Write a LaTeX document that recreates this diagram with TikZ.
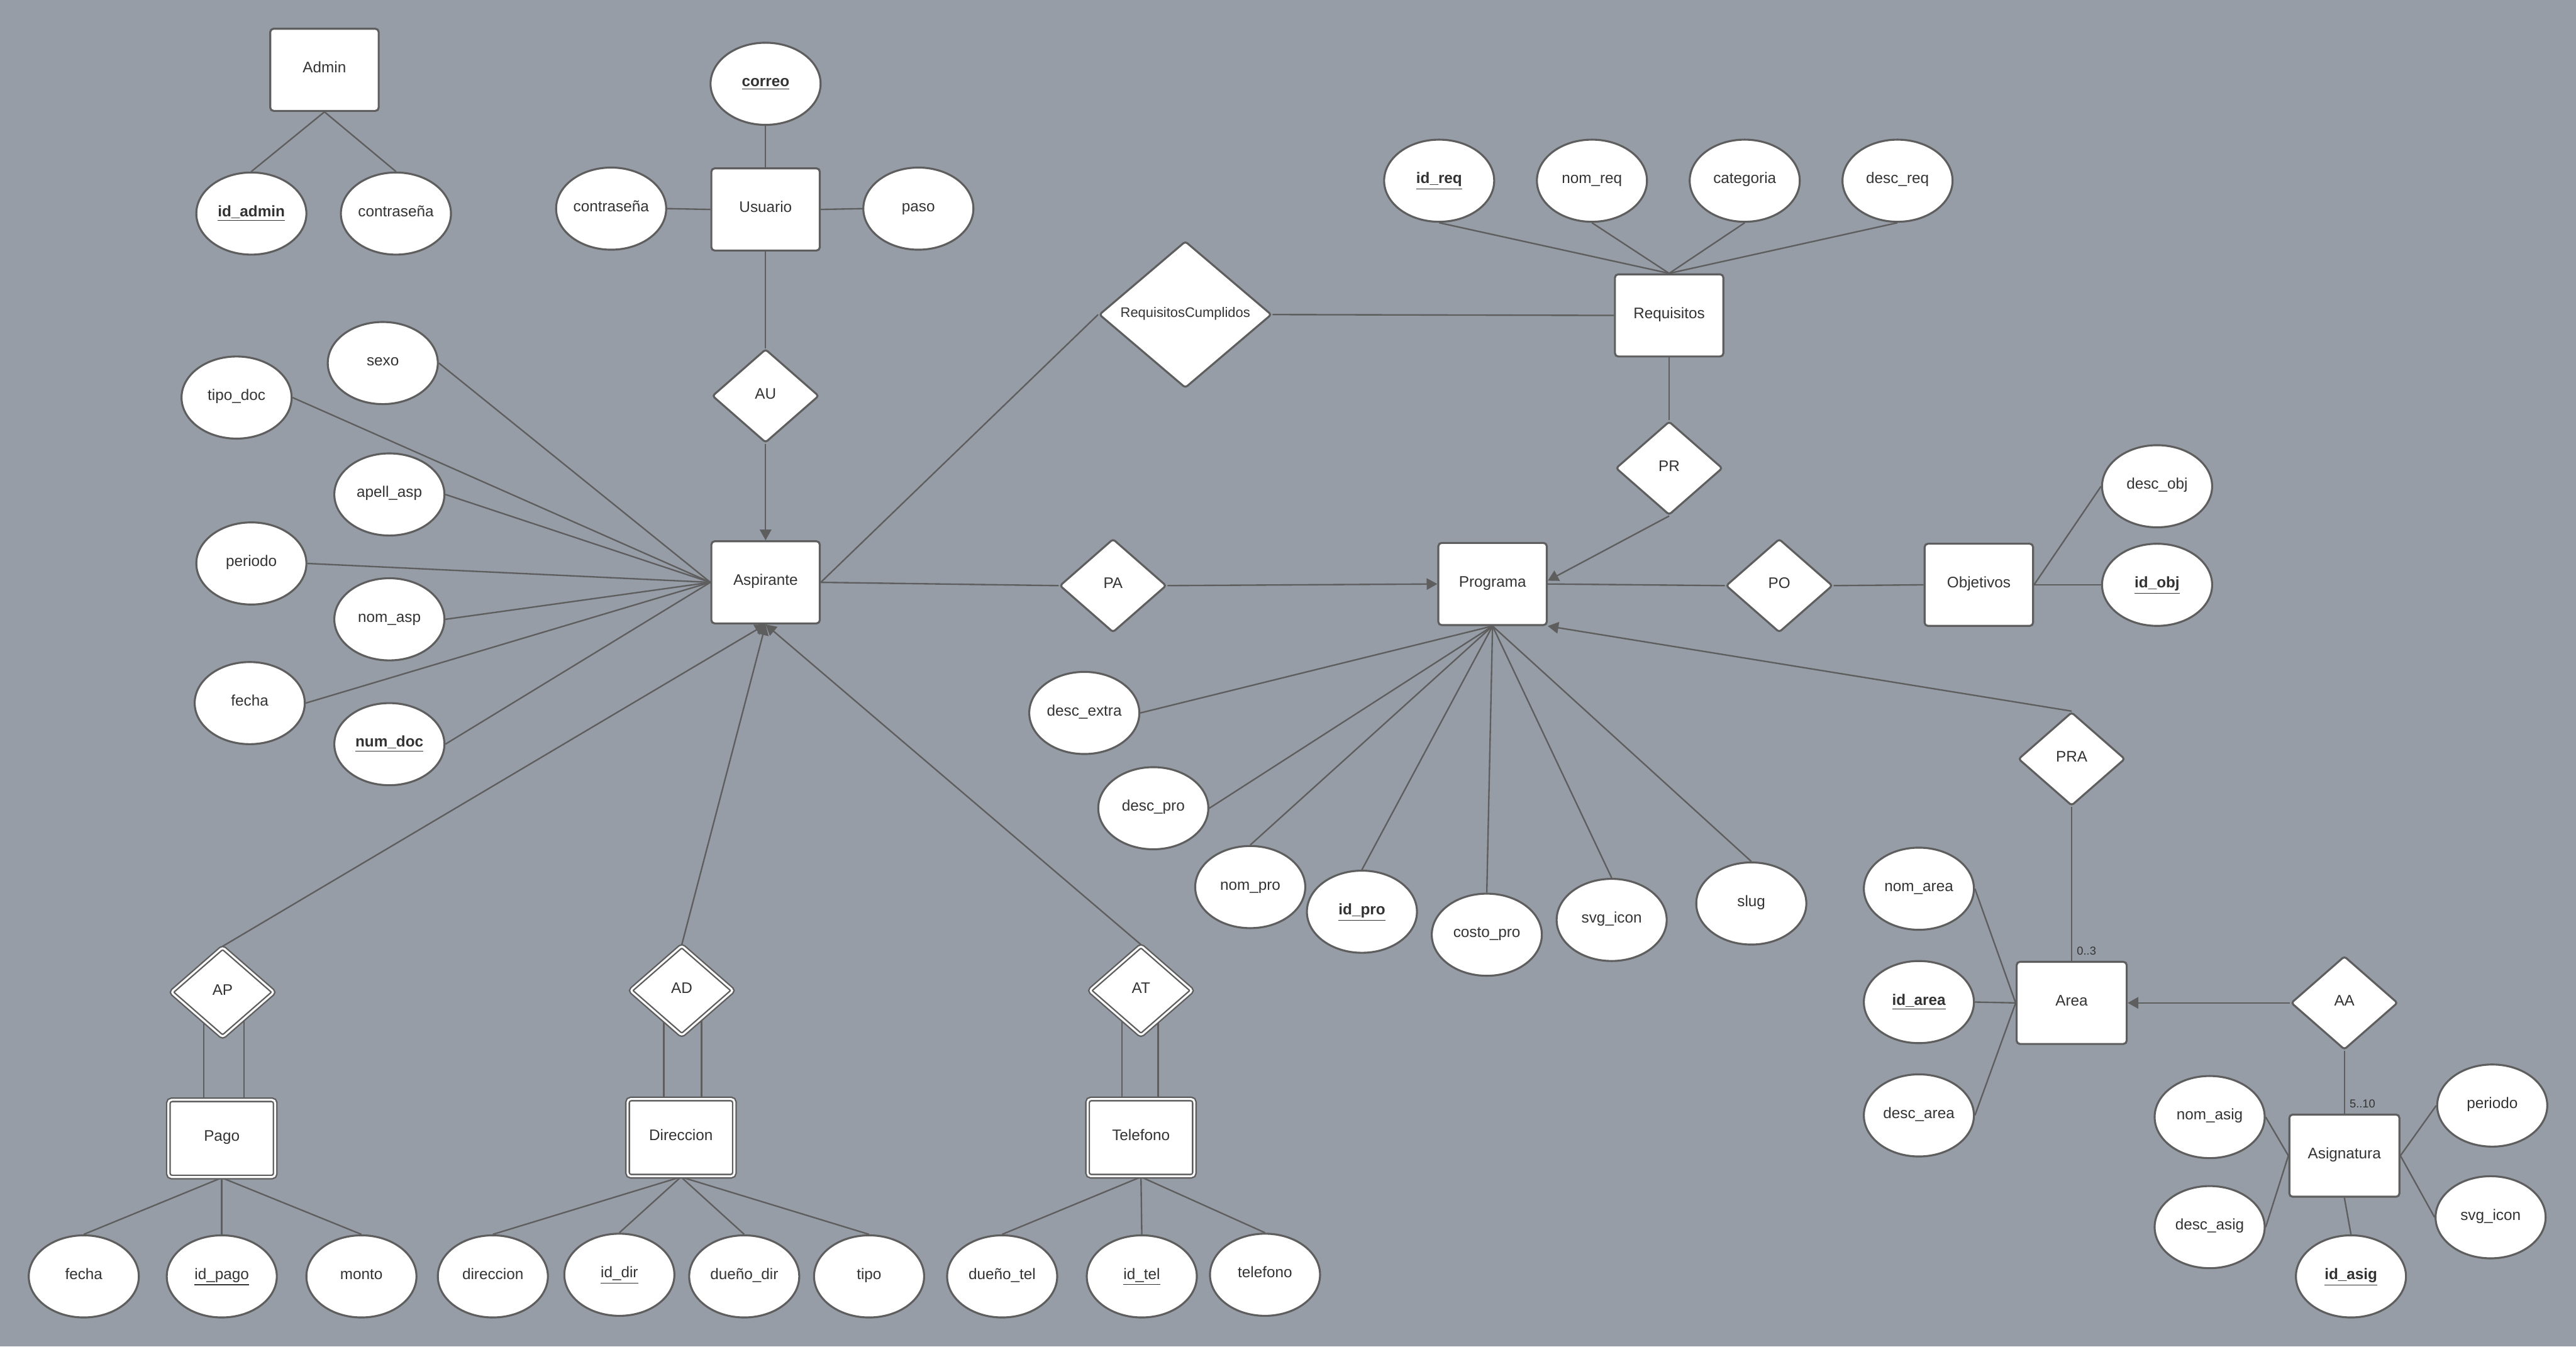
\documentclass[tikz,border=0pt]{standalone}
\usepackage{fontspec}
\setmainfont{Liberation Sans}
\usetikzlibrary{shapes.geometric,arrows.meta}
\definecolor{bgc}{HTML}{979DA7}
\definecolor{lnc}{HTML}{5E5E5E}
\definecolor{txc}{HTML}{333333}
\newcommand\erfont{\fontsize{9.3}{11}\selectfont}
\newcommand\erkey[1]{\underline{#1}}
\newcommand\erkeyb[1]{\textbf{\underline{#1}}}
\pgfdeclarelayer{back}
\pgfdeclarelayer{edges}
\pgfsetlayers{back,edges,main}
\begin{document}
\begin{tikzpicture}[x=1pt,y=-1pt,
  ent/.style={draw=lnc, line width=1.2pt, fill=white, rounded corners=2pt, minimum width=66pt, minimum height=50pt, inner sep=0pt, text=txc, font=\erfont, text height=7pt, text depth=3.5pt},
  weak/.style={ent, line width=0.9pt, double=white, double distance=1.2pt, minimum width=65pt, minimum height=47pt},
  attr/.style={ellipse, draw=lnc, line width=1.2pt, fill=white, minimum width=67pt, minimum height=50pt, inner sep=0pt, text=txc, font=\erfont, text height=7pt, text depth=3.5pt},
  rel/.style={diamond, draw=lnc, line width=1.2pt, fill=white, rounded corners=1.5pt, minimum width=65pt, minimum height=57pt, inner sep=0pt, text=txc, font=\erfont, text height=7pt, text depth=3.5pt},
  wrel/.style={rel, line width=0.9pt, double=white, double distance=1.2pt, minimum width=63pt, minimum height=55pt},
  conn/.style={draw=lnc, line width=0.9pt},
  arr/.style={conn, -{Triangle[length=6.5pt,width=7pt]}},
  card/.style={anchor=west, text=txc, font=\fontsize{7}{8}\selectfont, inner sep=0pt}
]
\begin{pgfonlayer}{back}
\fill[bgc] (0,0) rectangle (1568,819.6);
\end{pgfonlayer}
\useasboundingbox (0,0) rectangle (1568,819.6);

% Entities
\node[ent] (admin) at (197.5,42.5) {Admin};
\node[ent] (usuario) at (466,127.5) {Usuario};
\node[ent] (asp) at (466,354.5) {Aspirante};
\node[ent] (req) at (1016,192) {Requisitos};
\node[ent] (prog) at (908.5,355.5) {Programa};
\node[ent] (obj) at (1204.5,356) {Objetivos};
\node[ent, minimum width=67pt] (area) at (1261,610.5) {Area};
\node[ent, minimum width=67pt] (asig) at (1427,703.5) {Asignatura};
\node[weak] (pago) at (135,693) {Pago};
\node[weak] (dir) at (414.5,692.5) {Direccion};
\node[weak] (tel) at (694.5,692.5) {Telefono};

% Relationships
\node[rel] (au) at (466,241) {AU};
\node[rel, minimum width=105pt, minimum height=83pt, font=\fontsize{8.4}{10}\selectfont] (rc) at (721.5,191.5) {RequisitosCumplidos};
\node[rel] (pr) at (1016,285) {PR};
\node[rel] (pa) at (677.5,356.5) {PA};
\node[rel] (po) at (1083,356.5) {PO};
\node[rel] (pra) at (1261,462) {PRA};
\node[rel] (aa) at (1427,610.5) {AA};
\node[wrel] (ap) at (135.5,604) {AP};
\node[wrel] (ad) at (415,603) {AD};
\node[wrel] (at) at (694.5,603) {AT};

% Attributes
\node[attr] (idadmin) at (153,130) {\erkeyb{id\_admin}};
\node[attr] (admpass) at (241,130) {contraseña};
\node[attr] (correo) at (466,51) {\erkeyb{correo}};
\node[attr] (uspass) at (372,127) {contraseña};
\node[attr] (paso) at (559,127) {paso};

\node[attr] (sexo) at (233,221) {sexo};
\node[attr] (tipodoc) at (144,242) {tipo\_doc};
\node[attr] (apell) at (237,301) {apell\_asp};
\node[attr] (periodo) at (153,343) {periodo};
\node[attr] (nomasp) at (237,377) {nom\_asp};
\node[attr] (fecha) at (152,428) {fecha};
\node[attr] (numdoc) at (237,453) {\erkeyb{num\_doc}};

\node[attr] (idreq) at (876,110) {\erkeyb{id\_req}};
\node[attr] (nomreq) at (969,110) {nom\_req};
\node[attr] (categoria) at (1062,110) {categoria};
\node[attr] (descreq) at (1155,110) {desc\_req};

\node[attr] (descobj) at (1313,296) {desc\_obj};
\node[attr] (idobj) at (1313,356) {\erkeyb{id\_obj}};

\node[attr] (descextra) at (660,434) {desc\_extra};
\node[attr] (descpro) at (702,492) {desc\_pro};
\node[attr] (nompro) at (761,540) {nom\_pro};
\node[attr] (idpro) at (829,555) {\erkeyb{id\_pro}};
\node[attr] (costo) at (905,569) {costo\_pro};
\node[attr] (svgpro) at (981,560) {svg\_icon};
\node[attr] (slug) at (1066,550) {slug};

\node[attr] (nomarea) at (1168,541) {nom\_area};
\node[attr] (idarea) at (1168,610) {\erkeyb{id\_area}};
\node[attr] (descarea) at (1168,679) {desc\_area};

\node[attr] (nomasig) at (1345,680) {nom\_asig};
\node[attr] (descasig) at (1345,747) {desc\_asig};
\node[attr] (idasig) at (1431,777) {\erkeyb{id\_asig}};
\node[attr] (periodoasig) at (1517,673) {periodo};
\node[attr] (svgasig) at (1516,741) {svg\_icon};

\node[attr] (fechapago) at (51,777) {fecha};
\node[attr] (idpago) at (135,777) {\erkey{id\_pago}};
\node[attr] (monto) at (220,777) {monto};

\node[attr] (direccion) at (300,777) {direccion};
\node[attr] (iddir) at (377,776) {\erkey{id\_dir}};
\node[attr] (duenodir) at (453,777) {dueño\_dir};
\node[attr] (tipo) at (529,777) {tipo};

\node[attr] (duenotel) at (610,777) {dueño\_tel};
\node[attr] (idtel) at (695,777) {\erkey{id\_tel}};
\node[attr] (telefono) at (770,776) {telefono};

% Cardinalities
\node[card] (c03) at (1264,579) {0..3};
\node[card] (c510) at (1430,672) {5..10};

\begin{pgfonlayer}{edges}
% Admin
\draw[conn] (admin.south) -- (idadmin.north);
\draw[conn] (admin.south) -- (admpass.north);
% Usuario
\draw[conn] (correo.south) -- (usuario.north);
\draw[conn] (uspass.east) -- (usuario.west);
\draw[conn] (usuario.east) -- (paso.west);
\draw[conn] (usuario.south) -- (au.north);
\draw[arr] (au.south) -- (asp.north);
% Aspirante attributes
\foreach \a in {sexo,tipodoc,apell,periodo,nomasp,fecha,numdoc}
  \draw[conn] (\a.east) -- (asp.west);
% Requisitos
\draw[conn] (asp.east) -- (rc.west);
\draw[conn] (rc.east) -- (req.west);
\foreach \a in {idreq,nomreq,categoria,descreq}
  \draw[conn] (\a.south) -- (req.north);
\draw[conn] (req.south) -- (pr.north);
\draw[arr] (pr.south) -- ([yshift=2pt]prog.east);
% Programa
\draw[conn] (asp.east) -- (pa.west);
\draw[arr] (pa.east) -- (prog.west);
\draw[conn] (prog.east) -- (po.west);
\draw[conn] (po.east) -- (obj.west);
\draw[conn] (obj.east) -- (descobj.west);
\draw[conn] (obj.east) -- (idobj.west);
\draw[conn] (prog.south) -- (descextra.east);
\draw[conn] (prog.south) -- (descpro.east);
\foreach \a in {nompro,idpro,costo,svgpro,slug}
  \draw[conn] (prog.south) -- (\a.north);
% Area / Asignatura
\draw[arr] (pra.north) -- (prog.south east);
\draw[conn] (pra.south) -- (area.north);
\foreach \a in {nomarea,idarea,descarea}
  \draw[conn] (\a.east) -- (area.west);
\draw[arr] (aa.west) -- (area.east);
\draw[conn] (aa.south) -- (asig.north);
\draw[conn] (nomasig.east) -- (asig.west);
\draw[conn] (descasig.east) -- (asig.west);
\draw[conn] (asig.south) -- (idasig.north);
\draw[conn] (asig.east) -- (periodoasig.west);
\draw[conn] (asig.east) -- (svgasig.west);
% Weak entities
\draw[arr] (ap.north) -- (asp.south);
\draw[arr] (ad.north) -- (asp.south);
\draw[arr] (at.north) -- (asp.south);
\draw[conn] ([xshift=-11pt]pago.north) -- ([xshift=-11pt]pago.north |- ap.center);
\draw[conn] ([xshift=13.5pt]pago.north) -- ([xshift=13.5pt]pago.north |- ap.center);
\draw[conn] ([xshift=-10.5pt]dir.north) -- ([xshift=-10.5pt]dir.north |- ad.center);
\draw[conn] ([xshift=12.5pt]dir.north) -- ([xshift=12.5pt]dir.north |- ad.center);
\draw[conn] ([xshift=-11.5pt]tel.north) -- ([xshift=-11.5pt]tel.north |- at.center);
\draw[conn] ([xshift=10.5pt]tel.north) -- ([xshift=10.5pt]tel.north |- at.center);
\foreach \a in {fechapago,idpago,monto}
  \draw[conn] (pago.south) -- (\a.north);
\foreach \a in {direccion,iddir,duenodir,tipo}
  \draw[conn] (dir.south) -- (\a.north);
\foreach \a in {duenotel,idtel,telefono}
  \draw[conn] (tel.south) -- (\a.north);
\end{pgfonlayer}
\end{tikzpicture}
\end{document}
